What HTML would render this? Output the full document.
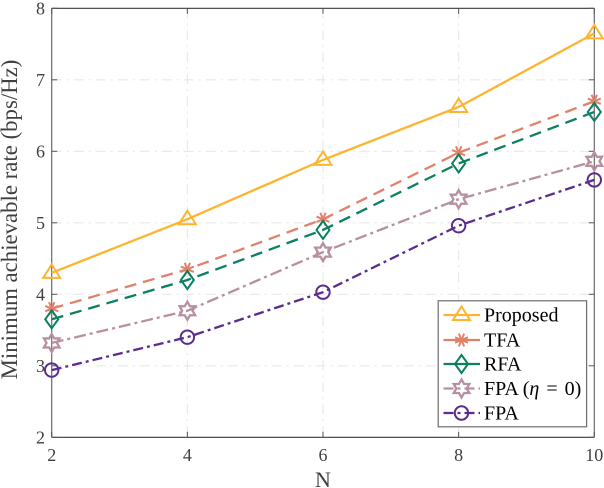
<!DOCTYPE html>
<html>
<head>
<meta charset="utf-8">
<style>
html,body{margin:0;padding:0;background:#fff;}
svg{display:block;}
text{font-family:"Liberation Serif",serif;}
</style>
</head>
<body>
<svg id="chart" xmlns="http://www.w3.org/2000/svg" width="604" height="488" viewBox="0 0 604 488"></svg>
<script>
const categories = [2, 4, 6, 8, 10];
const xTickLabels = [2, 4, 6, 8, 10];
const yTickLabels = [2, 3, 4, 5, 6, 7, 8];
const proposedValues = [4.30, 5.05, 5.88, 6.62, 7.65];
const tfaValues = [3.80, 4.35, 5.05, 5.98, 6.70];
const rfaValues = [3.65, 4.20, 4.90, 5.83, 6.55];
const fpaEtaValues = [3.32, 3.77, 4.59, 5.33, 5.86];
const fpaValues = [2.94, 3.40, 4.03, 4.96, 5.60];
const seriesNames = ['Proposed', 'TFA', 'RFA', 'FPA (η = 0)', 'FPA'];

const NS = 'http://www.w3.org/2000/svg';
const svg = document.getElementById('chart');
const L = 51.7, R = 594.3, T = 8.3, B = 437.3;
function xScale(v){ return L + (v - 2) / 8 * (R - L); }
function yScale(v){ return B - (v - 2) / 6 * (B - T); }

function mk(tag, attrs, parent){
  const e = document.createElementNS(NS, tag);
  for (const k in attrs) e.setAttribute(k, attrs[k]);
  (parent || svg).appendChild(e);
  return e;
}

function drawMarker(kind, x, y, color, g){
  const base = {fill:'none', stroke:color, 'stroke-width':2};
  if (kind === 'triangle'){
    mk('polygon', Object.assign({points:`${x},${y-8.5} ${x+8.5},${y+5} ${x-8.5},${y+5}`}, base), g);
  } else if (kind === 'asterisk'){
    for (let i = 0; i < 4; i++){
      const a = i * Math.PI / 4 + Math.PI / 8;
      const dx = 7 * Math.cos(a), dy = 7 * Math.sin(a);
      mk('line', {x1:x-dx, y1:y-dy, x2:x+dx, y2:y+dy, stroke:color, 'stroke-width':2}, g);
    }
  } else if (kind === 'diamond'){
    mk('polygon', Object.assign({points:`${x},${y-9} ${x+6.5},${y} ${x},${y+9} ${x-6.5},${y}`}, base), g);
  } else if (kind === 'star'){
    const r = 9, inner = r / Math.sqrt(3);
    const pts = [];
    for (let i = 0; i < 12; i++){
      const a = i * Math.PI / 6;
      const rad = i % 2 === 0 ? r : inner;
      pts.push(`${x + rad * Math.sin(a)},${y - rad * Math.cos(a)}`);
    }
    mk('polygon', Object.assign({points:pts.join(' ')}, base, {'stroke-width':2.3}), g);
  } else {
    mk('circle', Object.assign({cx:x, cy:y, r:6.7}, base), g);
  }
}

// Grid
const gridGroup = mk('g', {});


xTickLabels.slice(1, -1).forEach(v => {
  mk('line', {x1:xScale(v), x2:xScale(v), y1:T, y2:B, stroke:'#e8e8e8', 'stroke-width':1.1, 'stroke-dasharray':'10 5 2 5'}, gridGroup);
});
yTickLabels.slice(1, -1).forEach(v => {
  mk('line', {x1:L, x2:R, y1:yScale(v), y2:yScale(v), stroke:'#e8e8e8', 'stroke-width':1.1, 'stroke-dasharray':'10 5 2 5'}, gridGroup);
});

// Axes frame
const axesGroup = mk('g', {});


mk('line', {x1:L, x2:L, y1:T, y2:B, stroke:'#6a6a6a', 'stroke-width':1.2}, axesGroup);
mk('line', {x1:R, x2:R, y1:T, y2:B, stroke:'#6a6a6a', 'stroke-width':1.2}, axesGroup);
mk('line', {x1:L, x2:R, y1:T, y2:T, stroke:'#3a3a3a', 'stroke-width':1.1}, axesGroup);
mk('line', {x1:L, x2:R, y1:B, y2:B, stroke:'#3a3a3a', 'stroke-width':1.1}, axesGroup);

xTickLabels.forEach(v => {
  const x = xScale(v);
  mk('line', {x1:x, x2:x, y1:B, y2:B-5.5, stroke:'#555', 'stroke-width':1}, axesGroup);
  mk('line', {x1:x, x2:x, y1:T, y2:T+5.5, stroke:'#555', 'stroke-width':1}, axesGroup);
  const t = mk('text', {x:x, y:461, 'text-anchor':'middle', 'font-size':18, fill:'#404040'}, axesGroup);
  t.textContent = v;
  
  
});
yTickLabels.forEach(v => {
  const y = yScale(v);
  mk('line', {x1:L, x2:L+5.5, y1:y, y2:y, stroke:'#555', 'stroke-width':1}, axesGroup);
  mk('line', {x1:R, x2:R-5.5, y1:y, y2:y, stroke:'#555', 'stroke-width':1}, axesGroup);
  const t = mk('text', {x:45, y:y + 6, 'text-anchor':'end', 'font-size':18, fill:'#404040'}, axesGroup);
  t.textContent = v;
  
  
});

const xTitle = mk('text', {x:323, y:487, 'text-anchor':'middle', 'font-size':22, fill:'#404040'});
xTitle.textContent = 'N';



const yTitle = mk('text', {x:0, y:0, transform:'translate(17,219.5) rotate(-90)', 'text-anchor':'middle', 'font-size':22.8, fill:'#404040'});
yTitle.textContent = 'Minimum achievable rate (bps/Hz)';



// Series
const styles = [
  {color:'#fdb42f', dash:'', marker:'triangle'},
  {color:'#e2816a', dash:'12 7', marker:'asterisk'},
  {color:'#0b8063', dash:'12 7', marker:'diamond'},
  {color:'#b88fa2', dash:'12 4 3 4', marker:'star'},
  {color:'#5b2c8e', dash:'10 4 3 4', marker:'circle'}
];
const allSeries = [proposedValues, tfaValues, rfaValues, fpaEtaValues, fpaValues];
const seriesKeys = ['proposed', 'tfa', 'rfa', 'fpa-eta-zero', 'fpa'];

allSeries.forEach((vals, i) => {
  const s = styles[i];
  const g = mk('g', {});
  
  
  const pts = vals.map((v, j) => `${xScale(categories[j])},${yScale(v)}`).join(' ');
  const attrs = {points:pts, fill:'none', stroke:s.color, 'stroke-width':2.3};
  if (s.dash) attrs['stroke-dasharray'] = s.dash;
  mk('polyline', attrs, g);
  vals.forEach((v, j) => drawMarker(s.marker, xScale(categories[j]), yScale(v), s.color, g));
});

// Legend
const leg = mk('g', {});


mk('rect', {x:438.2, y:300.8, width:148.4, height:126, fill:'#fff', stroke:'#6e6e6e', 'stroke-width':1.2}, leg);
const rowY = [315, 340, 364, 388.5, 413];
seriesNames.forEach((name, i) => {
  const s = styles[i];
  const g = mk('g', {}, leg);
  
  
  const attrs = {x1:443.5, x2:480, y1:rowY[i], y2:rowY[i], stroke:s.color, 'stroke-width':2.3};
  if (i === 3 || i === 4) attrs['stroke-dasharray'] = '10 4 3 4';
  mk('line', attrs, g);
  drawMarker(s.marker, 461.5, rowY[i], s.color, g);
  const t = mk('text', {x:484, y:rowY[i] + 6.7, 'font-size':20, fill:'#000'}, g);
  if (i === 3){
    t.appendChild(document.createTextNode('FPA ('));
    const eta = mk('tspan', {'font-style':'italic'}, t);
    eta.textContent = 'η';
    const eq = mk('tspan', {dx:2}, t);
    eq.textContent = ' =';
    const zero = mk('tspan', {dx:2}, t);
    zero.textContent = ' 0)';
  } else {
    t.textContent = name;
  }
});
</script>
</body>
</html>
